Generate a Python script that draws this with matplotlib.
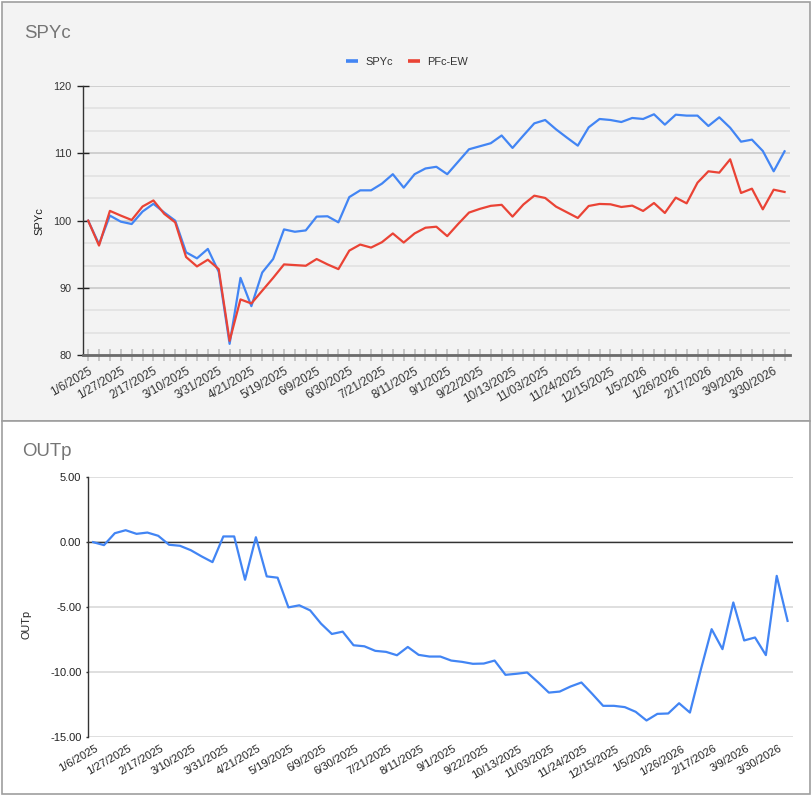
import matplotlib
matplotlib.use('Agg')
import matplotlib.pyplot as plt
from matplotlib.patches import Rectangle
from matplotlib.lines import Line2D
import matplotlib.transforms as mtransforms
import numpy as np

plt.rcParams['font.family'] = ['Liberation Sans', 'DejaVu Sans']

# ---------------- data ----------------
dates = ["1/6/2025", "1/13/2025", "1/21/2025", "1/27/2025", "2/3/2025", "2/10/2025",
         "2/17/2025", "2/24/2025", "3/3/2025", "3/10/2025", "3/17/2025", "3/24/2025",
         "3/31/2025", "4/7/2025", "4/14/2025", "4/21/2025", "5/5/2025", "5/12/2025",
         "5/19/2025", "5/27/2025", "6/2/2025", "6/9/2025", "6/16/2025", "6/23/2025",
         "6/30/2025", "7/7/2025", "7/14/2025", "7/21/2025", "7/28/2025", "8/4/2025",
         "8/11/2025", "8/18/2025", "8/25/2025", "9/1/2025", "9/8/2025", "9/15/2025",
         "9/22/2025", "9/29/2025", "10/6/2025", "10/13/2025", "10/20/2025", "10/27/2025",
         "11/03/2025", "11/10/2025", "11/17/2025", "11/24/2025", "12/1/2025", "12/8/2025",
         "12/15/2025", "12/22/2025", "12/29/2025", "1/5/2026", "1/12/2026", "1/20/2026",
         "1/26/2026", "2/2/2026", "2/9/2026", "2/17/2026", "2/23/2026", "3/2/2026",
         "3/9/2026", "3/16/2026", "3/23/2026", "3/30/2026", "4/6/2026"]

spyc = [100.0, 96.5, 100.75, 99.85, 99.5, 101.35, 102.5, 101.2, 100.0, 95.3,
        94.4, 95.8, 92.4, 81.7, 91.5, 87.3, 92.3, 94.3, 98.7, 98.35,
        98.55, 100.6, 100.65, 99.75, 103.5, 104.5, 104.5, 105.5, 106.9, 104.9,
        106.9, 107.75, 108.0, 106.9, 108.75, 110.6, 111.05, 111.5, 112.65, 110.8,
        112.65, 114.45, 114.95, 113.56, 112.33, 111.14, 113.86, 115.1, 114.95, 114.65,
        115.25, 115.1, 115.8, 114.26, 115.74, 115.6, 115.6, 114.06, 115.35, 113.8,
        111.73, 112.03, 110.35, 107.33, 110.3]

pfc_ew = [100.0, 96.3, 101.45, 100.75, 100.1, 102.1, 103.0, 101.0, 99.75, 94.6,
          93.2, 94.2, 92.8, 82.15, 88.3, 87.7, 89.6, 91.5, 93.5, 93.4,
          93.3, 94.3, 93.5, 92.8, 95.55, 96.45, 96.0, 96.8, 98.1, 96.75,
          98.1, 98.95, 99.1, 97.7, 99.5, 101.2, 101.75, 102.2, 102.35, 100.6,
          102.4, 103.71, 103.37, 102.08, 101.24, 100.4, 102.18, 102.48, 102.43, 102.03,
          102.23, 101.44, 102.62, 101.14, 103.42, 102.57, 105.64, 107.33, 107.13, 109.11,
          104.11, 104.75, 101.68, 104.6, 104.26]

outp = [0.0, -0.23, 0.69, 0.92, 0.64, 0.74, 0.49, -0.2, -0.28, -0.62,
        -1.1, -1.54, 0.44, 0.44, -2.9, 0.38, -2.64, -2.74, -5.03, -4.87,
        -5.26, -6.28, -7.08, -6.9, -7.95, -8.03, -8.38, -8.46, -8.72, -8.08,
        -8.69, -8.82, -8.82, -9.13, -9.23, -9.38, -9.36, -9.13, -10.23, -10.15,
        -10.05, -10.8, -11.6, -11.52, -11.13, -10.82, -11.7, -12.62, -12.62, -12.72,
        -13.08, -13.75, -13.24, -13.21, -12.42, -13.14, -9.85, -6.71, -8.25, -4.65,
        -7.58, -7.35, -8.71, -2.6, -6.07]

top_yticks = [80, 90, 100, 110, 120]
bot_yticks = [-15, -10, -5, 0, 5]
label_step = 3

# ---------------- layout helpers ----------------
W, H = 812, 796
fig = plt.figure(figsize=(W / 100, H / 100), dpi=100)
fig.patch.set_facecolor('white')


def fx(px):
    return px / W


def fy(py):
    return 1 - py / H


BLUE = '#4285F4'
RED = '#EA4335'
PANEL_BG = '#f3f3f3'

# panels (drawn below the axes)
fig.patches.append(Rectangle((fx(2.5), fy(420.5)), fx(810.5) - fx(2.5), fy(1.5) - fy(420.5),
                             transform=fig.transFigure, facecolor=PANEL_BG,
                             edgecolor='#9e9e9e', lw=1.2, zorder=-5))
fig.patches.append(Rectangle((fx(2.5), fy(794)), fx(810.5) - fx(2.5), fy(420.5) - fy(794),
                             transform=fig.transFigure, facecolor='white',
                             edgecolor='#9e9e9e', lw=1.2, zorder=-5))

x = np.arange(len(dates))
xlabels = [d if i % label_step == 0 else '' for i, d in enumerate(dates)]

# ---------------- top chart ----------------
ax1 = fig.add_axes([fx(82.7), fy(355.3), fx(790) - fx(82.7), fy(86) - fy(355.3)])
ax1.set_zorder(2)
ax1.set_facecolor(PANEL_BG)
ax1.plot(x, spyc, color=BLUE, lw=1.6, zorder=3, solid_joinstyle='round')
ax1.plot(x, pfc_ew, color=RED, lw=1.6, zorder=4, solid_joinstyle='round')
ax1.set_xlim(-0.5, len(dates) - 0.5)
ax1.set_ylim(80, 120)
ax1.set_yticks(top_yticks)
ax1.set_yticklabels([str(v) for v in top_yticks])
minor = [v for v in np.arange(80, 120.01, 10 / 3) if abs(v - round(v / 10) * 10) > 0.1]
ax1.set_yticks(minor, minor=True)
ax1.grid(axis='y', which='major', color='#c6c6c6', lw=1.1, zorder=1)
ax1.grid(axis='y', which='minor', color='#e0e0e0', lw=1.1, zorder=1)
ax1.set_axisbelow(True)
ax1.tick_params(axis='y', which='minor', length=0)
ax1.tick_params(axis='y', which='major', direction='inout', length=8.6, width=1,
                color='#222222', labelsize=7.8, labelcolor='#333333', pad=4)
ax1.set_xticks(x)
ax1.set_xticklabels(xlabels, rotation=30, ha='right')
ax1.tick_params(axis='x', direction='inout', length=8.6, width=1.2, color='#bdbdbd',
                labelsize=8.5, labelcolor='#333333', pad=3)
for spine in ['top', 'right']:
    ax1.spines[spine].set_visible(False)
ax1.spines['left'].set_color('#333333')
ax1.spines['left'].set_linewidth(1)
ax1.spines['bottom'].set_color('#6b6b6b')
ax1.spines['bottom'].set_linewidth(2)
ax1.set_ylabel('SPYc', fontsize=8, color='#222222')
ax1.yaxis.set_label_coords((44 - 82.7) / (790 - 82.7), 0.5)
off1 = mtransforms.ScaledTranslation(6 / 100, 0, fig.dpi_scale_trans)
for lab in ax1.get_xticklabels():
    lab.set_transform(lab.get_transform() + off1)

fig.text(fx(24), fy(38.3), 'SPYc', fontsize=13.4, color='#757575', va='baseline', ha='left')

handles = [Line2D([], [], color=BLUE, lw=2.6, solid_capstyle='butt'),
           Line2D([], [], color=RED, lw=2.6, solid_capstyle='butt')]
fig.legend(handles, ['SPYc', 'PFc-EW'], loc='center', bbox_to_anchor=(fx(407), fy(62)),
           ncol=2, frameon=False, fontsize=7.9, handlelength=1.05, handletextpad=0.7,
           columnspacing=1.4, borderpad=0, labelcolor='#333333')

# ---------------- bottom chart ----------------
ax2 = fig.add_axes([fx(87.7), fy(736.7), fx(793) - fx(87.7), fy(477.3) - fy(736.7)])
ax2.set_zorder(2)
ax2.set_facecolor('white')
ax2.plot(x, outp, color=BLUE, lw=1.6, zorder=3, solid_joinstyle='round')
ax2.set_xlim(-0.5, len(dates) - 0.5)
ax2.set_ylim(-15, 5)
ax2.set_yticks(bot_yticks)
ax2.set_yticklabels([f'{v:.2f}' for v in bot_yticks])
ax2.grid(axis='y', color='#d9d9d9', lw=1.2, zorder=1)
ax2.set_axisbelow(True)
ax2.axhline(0, color='#333333', lw=1, zorder=2)
ax2.tick_params(axis='y', direction='out', length=1.5, width=1, color='#333333',
                labelsize=8, labelcolor='#222222', pad=3)
ax2.set_xticks(x)
ax2.set_xticklabels(xlabels, rotation=30, ha='right')
ax2.tick_params(axis='x', length=0, labelsize=8, labelcolor='#222222', pad=5)
for spine in ['top', 'right', 'bottom']:
    ax2.spines[spine].set_visible(False)
ax2.spines['left'].set_color('#333333')
ax2.spines['left'].set_linewidth(1)
ax2.set_ylabel('OUTp', fontsize=7.8, color='#222222')
ax2.yaxis.set_label_coords((32 - 87.7) / (793 - 87.7), (736.7 - 624) / (736.7 - 477.3))
off2 = mtransforms.ScaledTranslation(7 / 100, 0, fig.dpi_scale_trans)
for lab in ax2.get_xticklabels():
    lab.set_transform(lab.get_transform() + off2)

fig.text(fx(22), fy(456), 'OUTp', fontsize=13.4, color='#757575', va='baseline', ha='left')

fig.savefig('out.png', dpi=100, facecolor='white')
